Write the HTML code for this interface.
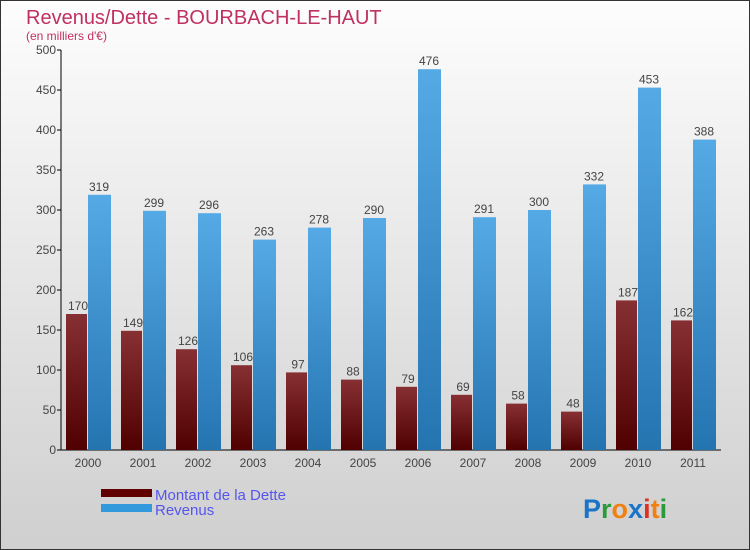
<!DOCTYPE html>
<html><head><meta charset="utf-8"><style>
body{margin:0;width:750px;height:550px;overflow:hidden;font-family:"Liberation Sans",sans-serif}
#wrap{position:relative;width:748px;height:548px;border:1px solid #333;background:linear-gradient(#fdfdfd,#cfcfcf)}
</style></head><body>
<div id="wrap">
<svg id="chart" width="748" height="548" style="position:absolute;left:0;top:0" font-family="Liberation Sans, sans-serif">
<text x="25" y="23" font-size="20" fill="#c03060">Revenus/Dette - BOURBACH-LE-HAUT</text>
<text x="25" y="39" font-size="12" fill="#c03060">(en milliers d'€)</text>
<g id="axes"></g><g id="bars"></g>
<rect x="100" y="488" width="51" height="8" fill="#600000"/>
<rect x="100" y="503" width="51" height="8" fill="#3399dd"/>
<text x="154" y="499" font-size="15" fill="#5555ee">Montant de la Dette</text>
<text x="154" y="514" font-size="15" fill="#5555ee">Revenus</text>
<text x="582" y="517" font-size="27" font-weight="bold"><tspan fill="#1a75c8">P</tspan><tspan fill="#2a9a3a">r</tspan><tspan fill="#f08010">o</tspan><tspan fill="#1a75c8">x</tspan><tspan fill="#e03020">i</tspan><tspan fill="#f08010">t</tspan><tspan fill="#2a9a3a">i</tspan></text>
<defs>
<linearGradient id="gr" x1="0" y1="0" x2="0" y2="1"><stop offset="0" stop-color="#873034"/><stop offset="1" stop-color="#500000"/></linearGradient>
<linearGradient id="gb" x1="0" y1="0" x2="0" y2="1"><stop offset="0" stop-color="#55aae6"/><stop offset="1" stop-color="#2474b0"/></linearGradient>
</defs>
</svg></div>
<script>
const years=["2000","2001","2002","2003","2004","2005","2006","2007","2008","2009","2010","2011"];
const dette=[170,149,126,106,97,88,79,69,58,48,187,162];
const revenus=[319,299,296,263,278,290,476,291,300,332,453,388];
const ticks=[0,50,100,150,200,250,300,350,400,450,500];
const NS="http://www.w3.org/2000/svg";
const y=v=>449-v*0.8;
const gx=i=>65+55*i;
const axes=document.getElementById('axes'),bars=document.getElementById('bars');
function mk(tag,at,p){const e=document.createElementNS(NS,tag);for(const k in at)e.setAttribute(k,at[k]);p.appendChild(e);return e;}
let l=mk('line',{x1:60,y1:49,x2:60,y2:449,stroke:'#000'},axes);


l=mk('line',{x1:60,y1:449,x2:720,y2:449,stroke:'#000'},axes);


ticks.forEach(t=>{
  mk('line',{x1:56,y1:y(t),x2:60,y2:y(t),stroke:'#000'},axes);
  const tx=mk('text',{x:55,y:y(t)+4,'font-size':12,'text-anchor':'end',fill:'#444'},axes);
  tx.textContent=t;
  
  
});
years.forEach((yr,i)=>{
  const x=gx(i);
  const r=mk('rect',{x:x,y:y(dette[i]),width:21,height:dette[i]*0.8,fill:'url(#gr)'},bars);
  
  
  const b=mk('rect',{x:x+22,y:y(revenus[i]),width:23,height:revenus[i]*0.8,fill:'url(#gb)'},bars);
  
  
  let t=mk('text',{x:x+12,y:y(dette[i])-4,'font-size':12,'text-anchor':'middle',fill:'#444'},bars);
  t.textContent=dette[i];
  
  
  t=mk('text',{x:x+33,y:y(revenus[i])-4,'font-size':12,'text-anchor':'middle',fill:'#444'},bars);
  t.textContent=revenus[i];
  
  
  t=mk('text',{x:x+22,y:466,'font-size':12,'text-anchor':'middle',fill:'#444'},bars);
  t.textContent=yr;
  
  
});
</script>
</body></html>
